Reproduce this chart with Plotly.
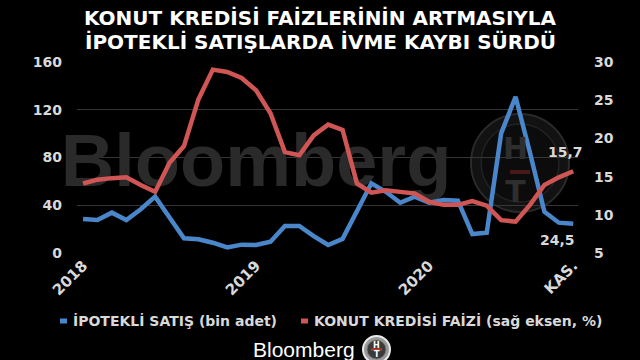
import plotly.graph_objects as go

# ---- data ----
months = [f"{y}-{m:02d}" for y in (2018, 2019, 2020) for m in range(1, 13)][:35]
ipotekli_satis = [28.5, 27.6, 33.8, 27.6, 36.6, 47.2, 29.8, 12.3, 11.5, 8.6, 4.7, 7.0,
                  6.7, 9.5, 22.6, 22.6, 14.2, 6.7, 11.8, 35.0, 58.4, 51.3, 42.1, 47.2,
                  42.1, 44.4, 43.8, 15.9, 17.0, 100.2, 130.9, 84.0, 34.6, 25.4, 24.5]
konut_faizi = [14.1, 14.6, 14.8, 14.9, 13.9, 13.0, 16.8, 19.0, 25.1, 29.0, 28.7, 27.9,
               26.3, 23.3, 18.2, 17.8, 20.4, 21.8, 21.1, 14.1, 12.9, 13.2, 13.0, 12.8,
               11.7, 11.3, 11.3, 11.8, 11.2, 9.3, 9.1, 11.3, 13.9, 14.9, 15.7]
tick_vals = ["2018-01", "2019-01", "2020-01", "2020-11"]
tick_text = ["2018", "2019", "2020", "KAS."]
left_ticks = [0, 40, 80, 120, 160]
right_ticks = [5, 10, 15, 20, 25, 30]

BLUE = "#4a86ca"
RED = "#cf5654"
GRID = "#363636"
TXT = "#d9d9d9"
FONT = "DejaVu Sans"

L, R, T, B = 77, 62, 62, 107
W, H = 640 - L - R, 360 - T - B


def X(px):
    return (px - L) / W


def Y(py):
    return (360 - B - py) / H


fig = go.Figure()

# watermark text (drawn first so lines go over it)
fig.add_trace(go.Scatter(
    x=["2019-01"], y=[72], mode="text", text=["Bloomberg"],
    textfont=dict(family="Liberation Sans", size=74, color="#2a2a2a", weight="bold"),
    textposition="middle center", hoverinfo="skip", showlegend=False, cliponaxis=False))
fig.add_trace(go.Scatter(
    x=["2020-07", "2020-07"], y=[18.3, 12.6], yaxis="y2", mode="text", text=["H", "T"],
    textfont=dict(family=FONT, size=30, color="#2e2e2e", weight="bold"),
    textposition="middle center", hoverinfo="skip", showlegend=False))

fig.add_trace(go.Scatter(
    x=months, y=ipotekli_satis, mode="lines", name="İPOTEKLİ SATIŞ (bin adet)",
    line=dict(color=BLUE, width=4.5), showlegend=False))
fig.add_trace(go.Scatter(
    x=months, y=konut_faizi, mode="lines", name="KONUT KREDİSİ FAİZİ (sağ eksen, %)",
    line=dict(color=RED, width=4.5), yaxis="y2", showlegend=False))

shapes = [
    # HT watermark circle
    dict(type="circle", xref="paper", yref="paper", layer="below",
         x0=X(471), x1=X(569), y0=Y(212), y1=Y(114),
         fillcolor="#121212", line=dict(color="#2a2a2a", width=2)),
    dict(type="circle", xref="paper", yref="paper", layer="below",
         x0=X(481), x1=X(559), y0=Y(202), y1=Y(124),
         fillcolor="#0c0c0c", line=dict(color="#222222", width=1.5)),
    dict(type="rect", xref="paper", yref="paper", layer="below",
         x0=X(510), x1=X(530), y0=Y(174), y1=Y(170),
         fillcolor="#4a1818", line=dict(width=0)),
    # legend markers
    dict(type="line", xref="paper", yref="paper", x0=X(60), x1=X(67), y0=Y(321), y1=Y(321),
         line=dict(color=BLUE, width=5)),
    dict(type="line", xref="paper", yref="paper", x0=X(301), x1=X(308), y0=Y(321), y1=Y(321),
         line=dict(color=RED, width=5)),
    # bottom logo circle
    dict(type="circle", xref="paper", yref="paper", x0=X(363), x1=X(390), y0=Y(363), y1=Y(336),
         fillcolor="#9a9a9a", line=dict(color="#e8e8e8", width=2)),
    dict(type="circle", xref="paper", yref="paper", x0=X(367), x1=X(386), y0=Y(359), y1=Y(340),
         fillcolor="#3a3a3a", line=dict(color="#777777", width=1)),
    dict(type="line", xref="paper", yref="paper", x0=X(371), x1=X(382), y0=Y(349.5), y1=Y(349.5),
         line=dict(color="#c0392b", width=2)),
]

annotations = [
    dict(text="KONUT KREDİSİ FAİZLERİNİN ARTMASIYLA", x=X(320), y=Y(18), xref="paper", yref="paper",
         showarrow=False, xanchor="center", yanchor="middle",
         font=dict(family=FONT, size=20, color="white", weight="bold")),
    dict(text="İPOTEKLİ SATIŞLARDA İVME KAYBI SÜRDÜ", x=X(320), y=Y(42), xref="paper", yref="paper",
         showarrow=False, xanchor="center", yanchor="middle",
         font=dict(family=FONT, size=20, color="white", weight="bold")),
    dict(text="15,7", x=months[-1], y=konut_faizi[-1], xref="x", yref="y2", showarrow=False,
         xshift=-8, yshift=19, font=dict(family=FONT, size=14, color=TXT, weight="bold")),
    dict(text="24,5", x=months[-1], y=ipotekli_satis[-1], xref="x", yref="y", showarrow=False,
         xshift=-16, yshift=-16, font=dict(family=FONT, size=14, color=TXT, weight="bold")),
    dict(text="İPOTEKLİ SATIŞ (bin adet)", x=X(71), y=Y(321), xref="paper", yref="paper",
         showarrow=False, xanchor="left", yanchor="middle",
         font=dict(family=FONT, size=14, color=TXT, weight="bold")),
    dict(text="KONUT KREDİSİ FAİZİ (sağ eksen, %)", x=X(312), y=Y(321), xref="paper", yref="paper",
         showarrow=False, xanchor="left", yanchor="middle",
         font=dict(family=FONT, size=14, color=TXT, weight="bold")),
    dict(text="Bloomberg", x=X(304), y=Y(349), xref="paper", yref="paper",
         showarrow=False, xanchor="center", yanchor="middle",
         font=dict(family="Liberation Sans", size=21, color="white")),
    dict(text="H", x=X(376.5), y=Y(345), xref="paper", yref="paper", showarrow=False,
         xanchor="center", yanchor="middle", font=dict(family=FONT, size=8, color="white", weight="bold")),
    dict(text="T", x=X(376.5), y=Y(354), xref="paper", yref="paper", showarrow=False,
         xanchor="center", yanchor="middle", font=dict(family=FONT, size=8, color="white", weight="bold")),
]

fig.update_layout(
    width=640, height=360,
    margin=dict(l=L, r=R, t=T, b=B, pad=0),
    paper_bgcolor="black", plot_bgcolor="black",
    showlegend=False,
    shapes=shapes, annotations=annotations,
    xaxis=dict(type="category", categoryorder="array", categoryarray=months,
               range=[-0.42, 34.33], tickmode="array",
               tickvals=tick_vals, ticktext=tick_text, tickangle=-45,
               showgrid=False, zeroline=False, showline=False, ticks="",
               tickfont=dict(family=FONT, size=15, color=TXT, weight="bold")),
    yaxis=dict(range=[0, 160], tickmode="array", tickvals=left_ticks,
               showgrid=True, gridcolor=GRID, gridwidth=1, zeroline=False,
               showline=False, ticks="", ticklabelstandoff=14,
               tickfont=dict(family=FONT, size=14, color=TXT, weight="bold")),
    yaxis2=dict(range=[5, 30], tickmode="array", tickvals=right_ticks,
                overlaying="y", side="right", showgrid=False, zeroline=False,
                showline=False, ticks="", ticklabelstandoff=15,
                tickfont=dict(family=FONT, size=14, color=TXT, weight="bold")),
)

fig.write_html("out.html")
